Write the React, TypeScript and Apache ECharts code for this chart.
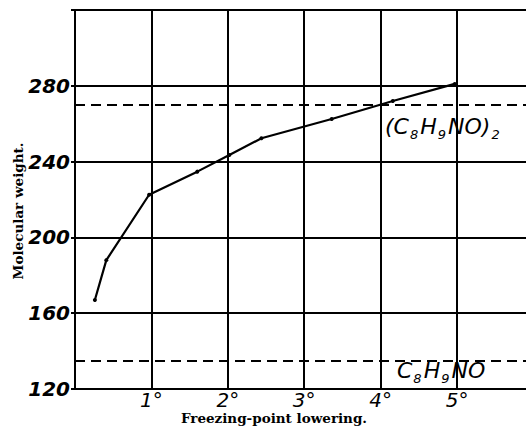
import React, { useEffect, useRef } from "react";
import * as echarts from "echarts";

const lowering: number[] = [0.26, 0.41, 0.97, 1.6, 2.02, 2.44, 3.36, 4.16, 4.97];
const molWeight: number[] = [167, 188, 222.5, 234.7, 243.5, 252.3, 262.5, 272, 281];
const dimerWeight = 270;
const monomerWeight = 135;
const yTicks = [120, 160, 200, 240, 280, 320];

export default function App() {
  const ref = useRef<HTMLDivElement>(null);
  useEffect(() => {
    if (!ref.current) return;
    document.body.style.margin = "0";
    const chart = echarts.init(ref.current, null, { renderer: "svg" });
    const handFont = "DejaVu Sans";
    const main = {
      fontSize: 22,
      fontStyle: "italic" as const,
      fontFamily: handFont,
      color: "#000",
      lineHeight: 28,
      verticalAlign: "middle" as const,
    };
    const sub = {
      fontSize: 13,
      fontStyle: "italic" as const,
      fontFamily: handFont,
      color: "#000",
      lineHeight: 12,
      height: 12,
      verticalAlign: "bottom" as const,
      padding: [0, 2, 0, 1],
    };
    chart.setOption({
      animation: false,
      backgroundColor: "#fff",
      grid: { left: 75, top: 10, right: -12, bottom: 38, outerBoundsMode: "none", containLabel: false },
      xAxis: {
        type: "value",
        min: 0,
        max: 6.06,
        interval: 1,
        name: "Freezing-point lowering.",
        nameLocation: "middle",
        nameGap: 22,
        nameMoveOverlap: false,
        nameTextStyle: {
          fontFamily: "DejaVu Serif",
          fontWeight: "bold",
          fontSize: 13.5,
          color: "#000",
          padding: [0, 65, 0, 0],
        },
        axisLine: { show: true, lineStyle: { color: "#000", width: 2 } },
        axisTick: { show: false },
        axisLabel: {
          margin: 1,
          fontFamily: handFont,
          fontStyle: "italic",
          fontSize: 20,
          color: "#000",
          showMaxLabel: false,
          formatter: (v: number) => (v === 0 || v > 5 || !Number.isInteger(v) ? "" : `${v}°`),
        },
        splitLine: { show: true, lineStyle: { color: "#000", width: 2 } },
      },
      yAxis: {
        type: "value",
        min: yTicks[0],
        max: yTicks[yTicks.length - 1],
        interval: 40,
        name: "Molecular weight.",
        nameLocation: "middle",
        nameGap: 50,
        nameMoveOverlap: false,
        nameTextStyle: {
          fontFamily: "DejaVu Serif",
          fontWeight: "bold",
          fontSize: 13.5,
          color: "#000",
          padding: [0, 23, 0, 0],
        },
        axisLine: { show: true, lineStyle: { color: "#000", width: 2 } },
        axisTick: { show: true, length: 4, lineStyle: { color: "#000", width: 2 } },
        axisLabel: {
          margin: 5,
          fontFamily: handFont,
          fontStyle: "italic",
          fontWeight: "bold",
          fontSize: 20,
          color: "#000",
          formatter: (v: number) => (v === 320 ? "" : String(v)),
        },
        splitLine: { show: true, lineStyle: { color: "#000", width: 2 } },
      },
      series: [
        {
          type: "line",
          data: lowering.map((x, i) => [x, molWeight[i]]),
          symbol: "circle",
          symbolSize: 4,
          itemStyle: { color: "#000" },
          lineStyle: { color: "#000", width: 2.2 },
          markLine: {
            silent: true,
            symbol: "none",
            label: { show: false },
            lineStyle: { color: "#000", width: 2, type: [10, 6] },
            data: [{ yAxis: dimerWeight }, { yAxis: monomerWeight }],
          },
        },
      ],
      graphic: [
        {
          type: "text",
          left: 385,
          top: 115,
          style: {
            text: "{a|(C}{s|8}{a|H}{s|9}{a|NO)}{s|2}",
            rich: { a: main, s: sub },
          },
        },
        {
          type: "text",
          left: 397,
          top: 359,
          style: {
            text: "{a|C}{s|8}{a|H}{s|9}{a|NO}",
            rich: { a: main, s: sub },
          },
        },
      ],
    });
    return () => chart.dispose();
  }, []);
  return <div ref={ref} style={{ width: 526, height: 427 }} />;
}
